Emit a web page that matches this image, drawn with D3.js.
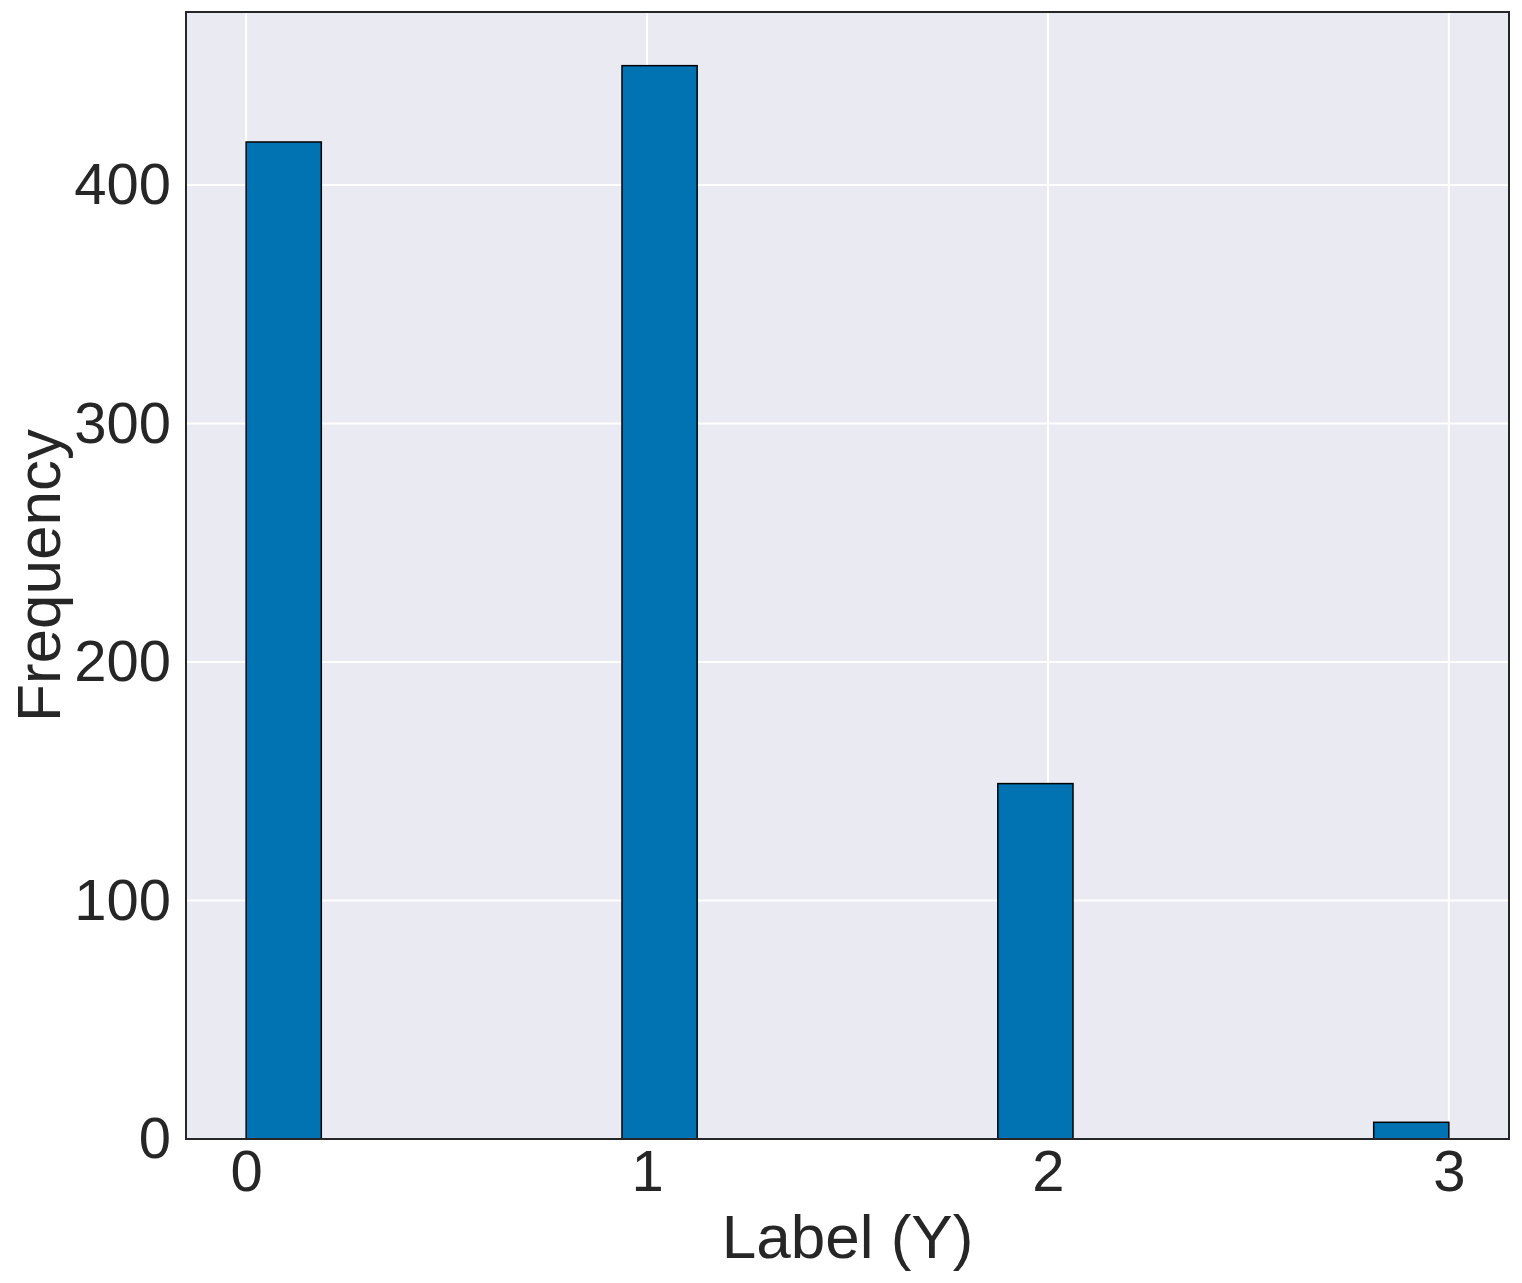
<!DOCTYPE html>
<html><head><meta charset="utf-8">
<script src="https://cdn.jsdelivr.net/npm/d3@7"></script>
<style>body{margin:0;background:#fff}svg{display:block}</style>
</head><body><div id="chart"></div>
<script>
// Histogram data (16 bins from 0 to 3)
const binStarts = [0, 0.9375, 1.875, 2.8125];
const binWidth = 0.1875;
const counts = [418, 450, 149, 7];
const xTicks = [0, 1, 2, 3];
const yTicks = [0, 100, 200, 300, 400];
const xLabel = "Label (Y)";
const yLabel = "Frequency";

const W = 1522, H = 1283;
const m = {left: 186, top: 12, right: 1509, bottom: 1139};
const svg = d3.select("#chart").append("svg").attr("width", W).attr("height", H)
  .style("font-family", "Arial, 'Liberation Sans', sans-serif");

const x = d3.scaleLinear().domain([-0.15, 3.15]).range([m.left, m.right]);
const y = d3.scaleLinear().domain([0, 472.5]).range([m.bottom, m.top]);

svg.append("rect").attr("x", m.left).attr("y", m.top)
  .attr("width", m.right - m.left).attr("height", m.bottom - m.top).attr("fill", "#eaeaf2");

// grid
svg.append("g").selectAll("line").data(xTicks).join("line")
  .attr("x1", d => x(d)).attr("x2", d => x(d)).attr("y1", m.top).attr("y2", m.bottom)
  .attr("stroke", "#fff").attr("stroke-width", 2);
svg.append("g").selectAll("line").data(yTicks).join("line")
  .attr("y1", d => y(d)).attr("y2", d => y(d)).attr("x1", m.left).attr("x2", m.right)
  .attr("stroke", "#fff").attr("stroke-width", 2);

// bars
svg.append("g").selectAll("rect").data(counts).join("rect")
  .attr("x", (d, i) => x(binStarts[i]))
  .attr("width", (d, i) => x(binStarts[i] + binWidth) - x(binStarts[i]))
  .attr("y", d => y(d)).attr("height", d => y(0) - y(d))
  .attr("fill", "#0173b2").attr("stroke", "#000").attr("stroke-width", 1.5);

// frame
svg.append("rect").attr("x", m.left).attr("y", m.top)
  .attr("width", m.right - m.left).attr("height", m.bottom - m.top)
  .attr("fill", "none").attr("stroke", "#262626").attr("stroke-width", 2);

// axes
const xa = svg.append("g").attr("transform", `translate(0,${m.bottom})`)
  .call(d3.axisBottom(x).tickValues(xTicks).tickSize(0).tickPadding(11).tickFormat(d3.format("d")));
const ya = svg.append("g").attr("transform", `translate(${m.left},0)`)
  .call(d3.axisLeft(y).tickValues(yTicks).tickSize(0).tickPadding(15).tickFormat(d3.format("d")));
[xa, ya].forEach(a => {
  a.select(".domain").remove();
  a.selectAll("text").attr("fill", "#262626").style("font-size", "58px")
   .style("font-family", "Arial, 'Liberation Sans', sans-serif");
});

svg.append("text").attr("x", (m.left + m.right) / 2).attr("y", 1258)
  .attr("text-anchor", "middle").attr("fill", "#262626").style("font-size", "62px").text(xLabel);
svg.append("text").attr("transform", `translate(60,${(m.top + m.bottom) / 2}) rotate(-90)`)
  .attr("text-anchor", "middle").attr("fill", "#262626").style("font-size", "62px").text(yLabel);
</script></body></html>
